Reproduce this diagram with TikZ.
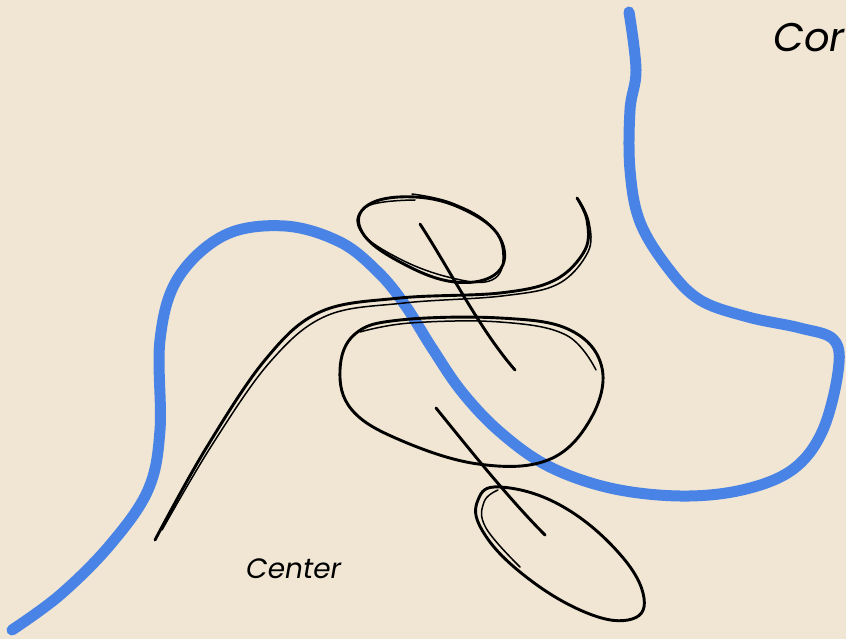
\documentclass[tikz,border=0pt]{standalone}
\usepackage{fontspec}
\setmainfont{Poppins}
\definecolor{bg}{HTML}{F0E6D3}
\definecolor{river}{HTML}{4A83E6}
\tikzset{
  riverline/.style={draw=river,line width=11pt,line cap=round,line join=round},
  ink/.style={draw=black,line width=2.9pt,line cap=round,line join=round},
  inkthin/.style={draw=black,line width=1.5pt,line cap=round,line join=round},
  lbl/.style={font=\itshape\fontsize{28}{30}\selectfont,text=black,inner sep=0pt}
}
\begin{document}
\begin{tikzpicture}[x=1pt,y=-1pt]
\useasboundingbox (0,0) rectangle (846,639);
\fill[bg] (0,0) rectangle (846,639);
\clip (0,0) rectangle (846,639);
% river
\draw[riverline] plot[smooth,tension=0.6] coordinates {
 (12,630) (60,595) (110,545) (148,490) (160,430) (160,340) (178,278) (225,235) (285,226) (340,242) (378,272) (405,305) (432,348) (462,392) (500,432) (548,466) (610,488) (680,496) (742,490) (792,470) (822,432) (838,372) (834,340) (800,328) (748,317) (700,300) (668,268) (640,222) (630,170) (630,110) (636,70) (629,12)};
% top small loop
\draw[ink] plot[smooth cycle,tension=0.7] coordinates {(415,197) (465,210) (500,238) (498,272) (455,282) (400,262) (362,232) (368,205)};
\draw[inkthin] plot[smooth,tension=0.7] coordinates {(415,200) (368,206) (360,230) (398,258) (452,278) (492,280) (503,255) (490,225) (452,203) (412,194)};
% line through top loop
\draw[ink] (420,224) .. controls (450,270) and (480,330) .. (515,370);
% long S curve
\draw[ink] plot[smooth,tension=0.6] coordinates {(155,540) (205,450) (265,360) (320,312) (400,298) (500,293) (555,280) (585,250) (587,220) (577,198)};
\draw[inkthin] plot[smooth,tension=0.6] coordinates {(162,530) (212,445) (270,362) (326,316) (404,303) (502,296) (558,284) (588,252) (589,222) (579,200)};
% middle big loop
\draw[ink] plot[smooth cycle,tension=0.65] coordinates {(400,320) (500,318) (570,330) (602,368) (590,420) (548,460) (478,464) (400,440) (352,410) (340,370) (355,334)};
\draw[inkthin] plot[smooth,tension=0.65] coordinates {(360,332) (410,323) (500,322) (566,335) (596,370)};
% line through middle loop
\draw[ink] (436,408) .. controls (470,450) and (510,500) .. (545,535);
% bottom loop
\draw[ink] plot[smooth cycle,tension=0.7] coordinates {(500,487) (560,505) (618,552) (644,598) (628,620) (580,610) (520,572) (482,530) (478,500)};
\draw[inkthin] plot[smooth,tension=0.7] coordinates {(498,490) (484,502) (486,528) (520,567)};
% labels
\node[lbl,anchor=base west] (center) at (246,578) {Center};
\node[lbl,anchor=base west,font=\itshape\fontsize{40}{42}\selectfont] (cor) at (773,52) {Cor};
\end{tikzpicture}
\end{document}
